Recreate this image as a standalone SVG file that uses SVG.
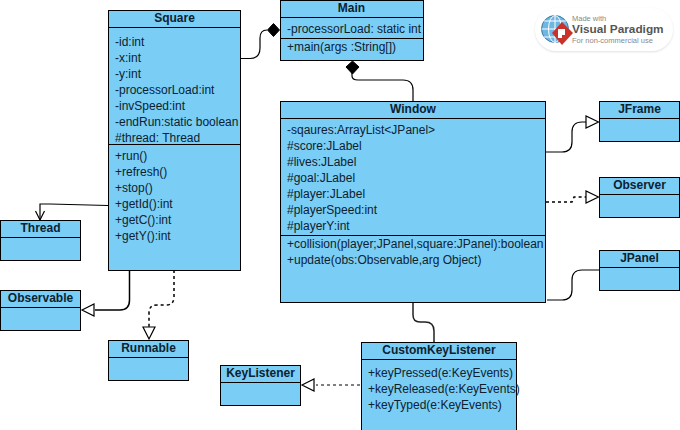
<svg xmlns="http://www.w3.org/2000/svg" width="680" height="430" viewBox="0 0 680 430">
<style>
.box{fill:#7acdf5;stroke:#000;stroke-width:1}
.sep{stroke:#000;stroke-width:1;fill:none}
text{font-family:"Liberation Sans",Arial,sans-serif;font-size:12px;fill:#0d2230}
.t{font-weight:bold;text-anchor:middle}
.c{fill:none;stroke:#000;stroke-width:1.2}
.d{stroke-dasharray:3 3}
.h{fill:#fff;stroke:#000;stroke-width:1.2}
.f{fill:#000;stroke:#000}
</style>
<defs>
<filter id="sh" x="-10%" y="-20%" width="120%" height="140%"><feGaussianBlur stdDeviation="1.2"/></filter>
</defs>
<rect width="680" height="430" fill="#fff"/>
<g id="connectors">
<path class="c" d="M241 58.500H250Q260 58.500 260 48V38Q260 30 267 30"/>
<path class="f" d="M267.500 30L273.500 23.500L279.500 30L273.500 36.500Z"/>
<path class="c" d="M352 72V76Q352 80 358 80H403Q413 80 413 90V101"/>
<path class="f" d="M346 67L352.500 61L359 67L352.500 74Z"/>
<path class="c" d="M108 205.500L50 204H40V220"/>
<path class="c" d="M35.500 211L40 220L44.500 211"/>
<path class="c" style="stroke-width:1.500" d="M129.500 270V300Q129.500 310 120 310H95"/>
<path class="h" d="M82 310L94 304V316Z"/>
<path class="c d" style="stroke-width:1.500" d="M174 270V297Q174 305 166 305H157Q149 305 149 313V327"/>
<path class="h" d="M143 327H155L149 339Z"/>
<path class="c" d="M546 152H562Q572 152 572 142V132Q572 122 582 122H586"/>
<path class="h" d="M598.500 122L586 116V128Z"/>
<path class="c d" style="stroke-width:1.500" d="M546 202H572L574 197H586"/>
<path class="h" d="M598.500 197L586 191V203Z"/>
<path class="c" d="M547 300H562Q572 300 572 290V280Q572 270 582 270H599"/>
<path class="c" style="stroke-width:1.500;stroke:#222" d="M413 302V315Q413 322 420 322H425Q434 322 434 331V346"/>
<path class="c d" d="M360 385H316"/>
<path class="h" d="M302 385L314 379V391Z"/>
</g>
<g id="Square">
<rect class="box" x="108.500" y="10.500" width="132" height="260"/>
<path class="sep" d="M108.500 27.500H240.500M108.500 144.500H240.500"/>
<text class="t" x="174.500" y="22">Square</text>
<text x="115" y="46">-id:int</text>
<text x="115" y="62">-x:int</text>
<text x="115" y="78">-y:int</text>
<text x="115" y="94">-processorLoad:int</text>
<text x="115" y="110">-invSpeed:int</text>
<text x="115" y="126">-endRun:static boolean</text>
<text x="115" y="142">#thread: Thread</text>
<text x="115" y="159.500">+run()</text>
<text x="115" y="175.500">+refresh()</text>
<text x="115" y="191.500">+stop()</text>
<text x="115" y="207.500">+getId():int</text>
<text x="115" y="223.500">+getC():int</text>
<text x="115" y="239.500">+getY():int</text>
</g>
<g id="Main">
<rect class="box" x="280.500" y="0.500" width="143" height="60"/>
<path class="sep" d="M280.500 17.500H423.500M280.500 38.500H423.500"/>
<text class="t" x="351.500" y="12">Main</text>
<text x="287" y="33">-processorLoad: static int</text>
<text x="287" y="51">+main(args :String[])</text>
</g>
<g id="Window">
<rect class="box" x="280.500" y="101.500" width="265" height="201"/>
<path class="sep" d="M280.500 118.500H545.500M280.500 235.500H545.500"/>
<text class="t" x="413" y="113">Window</text>
<text x="287" y="134">-sqaures:ArrayList&lt;JPanel&gt;</text>
<text x="287" y="150">#score:JLabel</text>
<text x="287" y="166">#lives:JLabel</text>
<text x="287" y="182">#goal:JLabel</text>
<text x="287" y="198">#player:JLabel</text>
<text x="287" y="214">#playerSpeed:int</text>
<text x="287" y="230">#playerY:int</text>
<text x="287" y="248">+collision(player;JPanel,square:JPanel):boolean</text>
<text x="287" y="264">+update(obs:Observable,arg Object)</text>
</g>
<g id="JFrame">
<rect class="box" x="599.500" y="101.500" width="80" height="40"/>
<path class="sep" d="M599.500 118.500H679.500"/>
<text class="t" x="639.500" y="113">JFrame</text>
</g>
<g id="Observer">
<rect class="box" x="599.500" y="177.500" width="80" height="40"/>
<path class="sep" d="M599.500 194.500H679.500"/>
<text class="t" x="639.500" y="189">Observer</text>
</g>
<g id="JPanel">
<rect class="box" x="599.500" y="250.500" width="80" height="40"/>
<path class="sep" d="M599.500 267.500H679.500"/>
<text class="t" x="639.500" y="262">JPanel</text>
</g>
<g id="Thread">
<rect class="box" x="0.500" y="220.500" width="80" height="40"/>
<path class="sep" d="M0.500 237.500H80.500"/>
<text class="t" x="40.500" y="232">Thread</text>
</g>
<g id="Observable">
<rect class="box" x="0.500" y="290.500" width="80" height="40"/>
<path class="sep" d="M0.500 307.500H80.500"/>
<text class="t" x="40.500" y="302">Observable</text>
</g>
<g id="Runnable">
<rect class="box" x="108.500" y="340.500" width="80" height="40"/>
<path class="sep" d="M108.500 357.500H188.500"/>
<text class="t" x="148.500" y="352">Runnable</text>
</g>
<g id="KeyListener">
<rect class="box" x="220.500" y="365.500" width="80" height="40"/>
<path class="sep" d="M220.500 382.500H300.500"/>
<text class="t" x="260.500" y="377">KeyListener</text>
</g>
<g id="CustomKeyListener">
<rect class="box" x="361.500" y="342.500" width="155" height="88"/>
<path class="sep" d="M361.500 359.500H516.500"/>
<text class="t" x="439" y="354">CustomKeyListener</text>
<text x="368" y="377">+keyPressed(e:KeyEvents)</text>
<text x="368" y="393">+keyReleased(e:KeyEvents)</text>
<text x="368" y="409">+keyTyped(e:KeyEvents)</text>
</g>
<g id="logo">
<rect x="535" y="9" width="138" height="43" rx="21" fill="#000" opacity=".12" filter="url(#sh)"/>
<rect x="535" y="8" width="138" height="43" rx="21" fill="#fff"/>
<circle cx="555" cy="29" r="13.500" fill="#6fb7e3" stroke="#3a7aa8" stroke-width="1"/>
<path d="M541.500 29H568.500M555 15.500V42.500M544 21H566M544 37H566" stroke="#fff" stroke-width="1" fill="none"/>
<ellipse cx="555" cy="29" rx="6.500" ry="13.500" fill="none" stroke="#fff" stroke-width="1"/>
<path d="M562 22L573 33L562 45L552 33Z" fill="#c8322b"/>
<path d="M558 29h7v6h-3v3h-4z" fill="#fff"/>
<text x="572" y="20.500" style="font-size:7.500px;fill:#8a8a8a">Made with</text>
<text x="572" y="33" style="font-size:11.800px;font-weight:bold;fill:#555">Visual Paradigm</text>
<text x="572" y="42.500" style="font-size:7.500px;fill:#8a8a8a">For non-commercial use</text>
</g>
</svg>
